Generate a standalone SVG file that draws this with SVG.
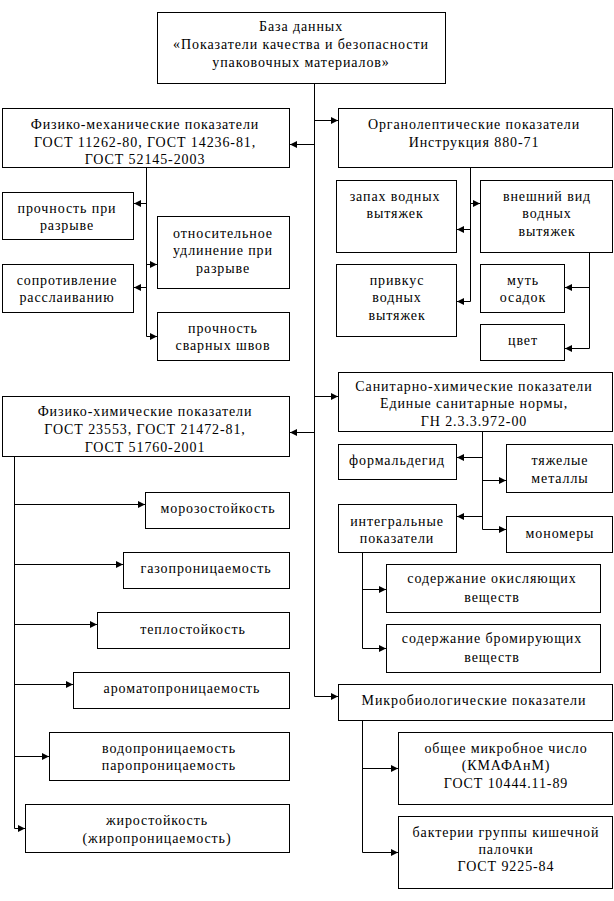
<svg xmlns="http://www.w3.org/2000/svg" width="614" height="901" viewBox="0 0 614 901" font-family="'Liberation Serif', serif">
<style>
rect{fill:#fff;stroke:#000;stroke-width:1}
text{font-family:'Liberation Serif',serif;font-size:14px;letter-spacing:0.9px;fill:#000;text-anchor:middle}
.c path{fill:none;stroke:#000;stroke-width:1}
.a{marker-end:url(#ah)}
</style>
<defs>
<marker id="ah" markerUnits="userSpaceOnUse" markerWidth="8" markerHeight="8" refX="7" refY="3.5" orient="auto">
<path d="M0,0 L7,3.5 L0,7 z" fill="#000"/>
</marker>
</defs>
<rect x="0" y="0" width="614" height="901" style="stroke:none"/>
<g class="c" id="connectors">
<path d="M314.5,84 V696.5"/>
<path class="a" d="M314.5,696.5 H338"/>
<path class="a" d="M314.5,120.5 H338"/>
<path class="a" d="M314.5,144.5 H290"/>
<path class="a" d="M314.5,396.5 H338"/>
<path class="a" d="M314.5,432.5 H290"/>
<path d="M146.5,168 V336.5"/>
<path class="a" d="M146.5,336.5 H157"/>
<path class="a" d="M146.5,203.5 H134"/>
<path class="a" d="M146.5,264.5 H157"/>
<path class="a" d="M146.5,287.5 H134"/>
<path d="M470.5,168 V301.5"/>
<path class="a" d="M470.5,301.5 H457"/>
<path class="a" d="M470.5,203.5 H480"/>
<path class="a" d="M470.5,229.5 H457"/>
<path d="M589.5,252 V348.5"/>
<path class="a" d="M589.5,348.5 H565"/>
<path class="a" d="M589.5,287.5 H565"/>
<path d="M482.5,432 V529.5"/>
<path class="a" d="M482.5,529.5 H506"/>
<path class="a" d="M482.5,457.5 H457"/>
<path class="a" d="M482.5,480.5 H506"/>
<path class="a" d="M482.5,516.5 H457"/>
<path d="M362.5,552 V648.5"/>
<path class="a" d="M362.5,648.5 H386"/>
<path class="a" d="M362.5,589.5 H386"/>
<path d="M14.5,457 V828.5"/>
<path class="a" d="M14.5,828.5 H25"/>
<path class="a" d="M14.5,504.5 H145"/>
<path class="a" d="M14.5,564.5 H123"/>
<path class="a" d="M14.5,624.5 H97"/>
<path class="a" d="M14.5,684.5 H73"/>
<path class="a" d="M14.5,756.5 H49"/>
<path d="M362.5,720 V852.5"/>
<path class="a" d="M362.5,852.5 H398"/>
<path class="a" d="M362.5,768.5 H398"/>
</g>
<g id="root"><rect x="157.5" y="12.5" width="288" height="71"/>
<text x="301" y="31">База данных</text>
<text x="301" y="49">«Показатели качества и безопасности</text>
<text x="301" y="67">упаковочных материалов»</text></g>
<g id="mech"><rect x="2.5" y="108.5" width="287" height="59"/>
<text x="145" y="129">Физико-механические показатели</text>
<text x="145" y="147">ГОСТ 11262-80, ГОСТ 14236-81,</text>
<text x="145" y="164">ГОСТ 52145-2003</text></g>
<g id="organo"><rect x="338.5" y="108.5" width="274" height="59"/>
<text x="474" y="129">Органолептические показатели</text>
<text x="474" y="147">Инструкция 880-71</text></g>
<g id="m1"><rect x="2.5" y="192.5" width="131" height="47"/>
<text x="67" y="213">прочность при</text>
<text x="67" y="230">разрыве</text></g>
<g id="m2"><rect x="157.5" y="216.5" width="132" height="72"/>
<text x="223" y="238">относительное</text>
<text x="223" y="255">удлинение при</text>
<text x="223" y="273">разрыве</text></g>
<g id="m3"><rect x="2.5" y="264.5" width="131" height="48"/>
<text x="67" y="285">сопротивление</text>
<text x="67" y="302">расслаиванию</text></g>
<g id="m4"><rect x="157.5" y="312.5" width="132" height="48"/>
<text x="223" y="333">прочность</text>
<text x="223" y="350">сварных швов</text></g>
<g id="o1"><rect x="336.5" y="180.5" width="120" height="72"/>
<text x="395" y="201">запах водных</text>
<text x="395" y="218">вытяжек</text></g>
<g id="o2"><rect x="480.5" y="180.5" width="132" height="72"/>
<text x="547" y="201">внешний вид</text>
<text x="547" y="218">водных</text>
<text x="547" y="236">вытяжек</text></g>
<g id="o3"><rect x="336.5" y="264.5" width="120" height="72"/>
<text x="397" y="285">привкус</text>
<text x="397" y="302">водных</text>
<text x="397" y="320">вытяжек</text></g>
<g id="o4"><rect x="480.5" y="264.5" width="84" height="48"/>
<text x="523" y="285">муть</text>
<text x="523" y="302">осадок</text></g>
<g id="o5"><rect x="480.5" y="324.5" width="84" height="36"/>
<text x="523" y="345">цвет</text></g>
<g id="sanit"><rect x="338.5" y="372.5" width="274" height="59"/>
<text x="474" y="391">Санитарно-химические показатели</text>
<text x="474" y="408">Единые санитарные нормы,</text>
<text x="474" y="426">ГН 2.3.3.972-00</text></g>
<g id="chem"><rect x="2.5" y="396.5" width="287" height="60"/>
<text x="145" y="416">Физико-химические показатели</text>
<text x="145" y="434">ГОСТ 23553, ГОСТ 21472-81,</text>
<text x="145" y="452">ГОСТ 51760-2001</text></g>
<g id="s1"><rect x="338.5" y="444.5" width="118" height="35"/>
<text x="397" y="465">формальдегид</text></g>
<g id="s2"><rect x="506.5" y="444.5" width="106" height="48"/>
<text x="560" y="465">тяжелые</text>
<text x="560" y="483">металлы</text></g>
<g id="s3"><rect x="338.5" y="504.5" width="118" height="48"/>
<text x="397" y="526">интегральные</text>
<text x="397" y="543">показатели</text></g>
<g id="s4"><rect x="506.5" y="516.5" width="106" height="36"/>
<text x="560" y="538">мономеры</text></g>
<g id="i1"><rect x="386.5" y="564.5" width="214" height="48"/>
<text x="492" y="583">содержание окисляющих</text>
<text x="492" y="602">веществ</text></g>
<g id="i2"><rect x="386.5" y="624.5" width="214" height="48"/>
<text x="492" y="643">содержание бромирующих</text>
<text x="492" y="662">веществ</text></g>
<g id="micro"><rect x="338.5" y="684.5" width="274" height="36"/>
<text x="474" y="705">Микробиологические показатели</text></g>
<g id="mi1"><rect x="398.5" y="732.5" width="214" height="72"/>
<text x="506" y="753">общее микробное число</text>
<text x="506" y="770">(КМАФАнМ)</text>
<text x="506" y="788">ГОСТ 10444.11-89</text></g>
<g id="mi2"><rect x="398.5" y="816.5" width="214" height="72"/>
<text x="506" y="837">бактерии группы кишечной</text>
<text x="506" y="854">палочки</text>
<text x="506" y="871">ГОСТ 9225-84</text></g>
<g id="c1"><rect x="145.5" y="492.5" width="144" height="36"/>
<text x="218" y="513">морозостойкость</text></g>
<g id="c2"><rect x="123.5" y="552.5" width="166" height="36"/>
<text x="206" y="573">газопроницаемость</text></g>
<g id="c3"><rect x="97.5" y="612.5" width="192" height="36"/>
<text x="193" y="634">теплостойкость</text></g>
<g id="c4"><rect x="73.5" y="672.5" width="216" height="36"/>
<text x="182" y="693">ароматопроницаемость</text></g>
<g id="c5"><rect x="49.5" y="732.5" width="240" height="48"/>
<text x="169" y="753">водопроницаемость</text>
<text x="169" y="770">паропроницаемость</text></g>
<g id="c6"><rect x="25.5" y="804.5" width="264" height="48"/>
<text x="157" y="825">жиростойкость</text>
<text x="157" y="843">(жиропроницаемость)</text></g>
</svg>
